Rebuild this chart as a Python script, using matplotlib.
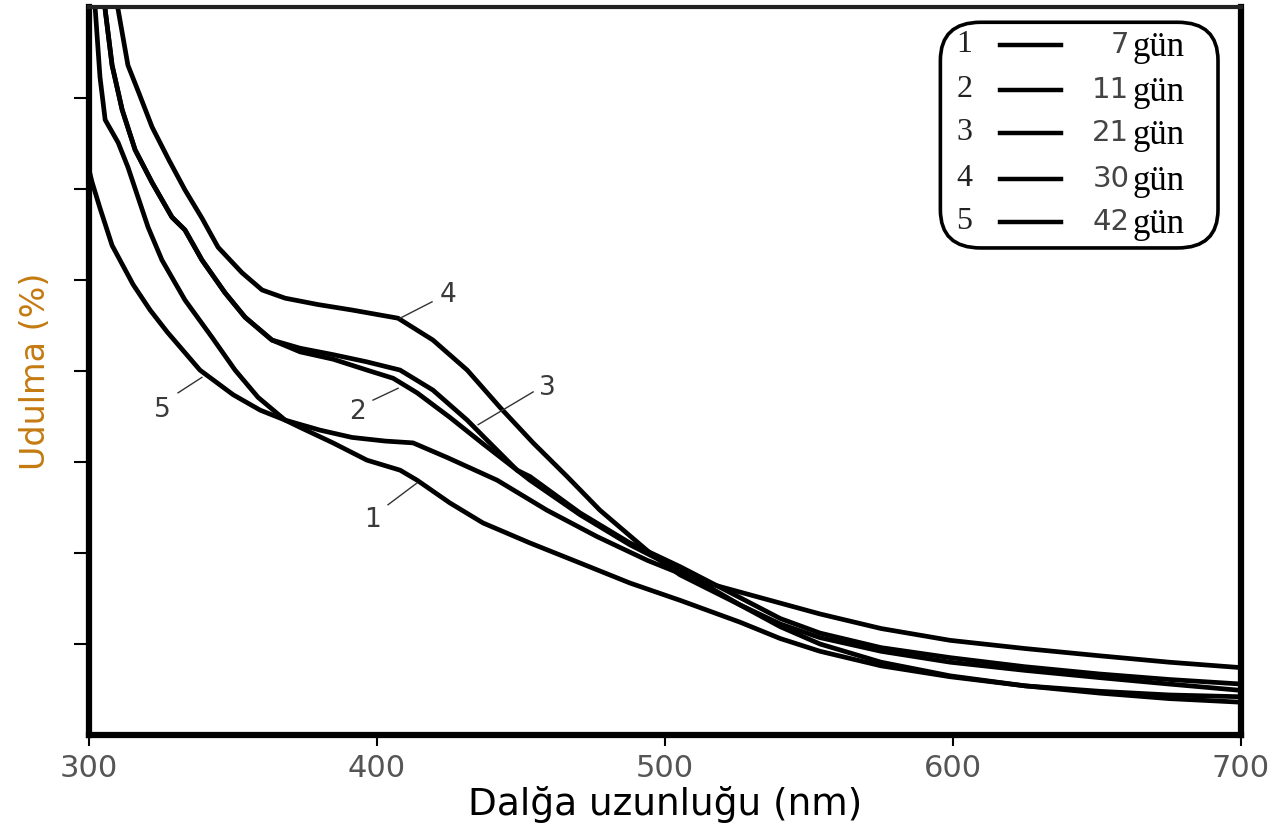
"""
Udulma spektrumları: 7-42 gün bekletilmiş örnekler (300-700 nm).
Saves: out.png
"""

import matplotlib
matplotlib.use("Agg")
import matplotlib.pyplot as plt
from matplotlib.patches import FancyBboxPatch

# -----------------------------------------------------------------------
# Data
# -----------------------------------------------------------------------
wl_1 = [302.1, 303.8, 305.6, 310.1, 313.5, 317.0, 320.5, 325.3, 333.3, 342.7,
        350.7, 358.7, 368.1, 373.3, 384.7, 396.5, 408.0, 413.9, 425.3, 436.8,
        453.1, 470.5, 487.8, 505.2, 526.0, 540.0, 553.8, 575.0, 599.0, 625.0,
        651.0, 675.0, 700.0]
abs_1 = [8.00, 7.23, 6.76, 6.51, 6.24, 5.91, 5.58, 5.22, 4.78, 4.37,
         4.01, 3.71, 3.46, 3.38, 3.21, 3.02, 2.91, 2.80, 2.55, 2.33,
         2.11, 1.89, 1.67, 1.48, 1.24, 1.06, 0.92, 0.76, 0.64, 0.54,
         0.48, 0.44, 0.42]

wl_2 = [305.2, 305.6, 308.0, 311.5, 316.0, 321.9, 328.8, 333.3, 339.2, 347.2,
        354.2, 363.5, 373.3, 384.7, 396.5, 405.6, 413.9, 425.3, 436.8, 453.1,
        470.5, 487.8, 505.2, 526.0, 540.0, 553.8, 575.0, 599.0, 625.0, 651.0,
        675.0, 700.0]
abs_2 = [8.13, 7.97, 7.36, 6.87, 6.43, 6.07, 5.69, 5.55, 5.22, 4.86,
         4.59, 4.34, 4.21, 4.13, 4.01, 3.92, 3.76, 3.49, 3.20, 2.80,
         2.42, 2.09, 1.81, 1.43, 1.19, 1.00, 0.80, 0.65, 0.54, 0.46,
         0.40, 0.36]

wl_3 = [305.2, 305.6, 308.0, 311.5, 316.0, 321.9, 328.8, 333.3, 339.2, 347.2,
        354.2, 363.5, 373.3, 384.7, 396.5, 408.0, 419.4, 431.3, 438.2, 448.6,
        453.1, 470.5, 487.8, 505.2, 526.0, 540.0, 553.8, 575.0, 599.0, 625.0,
        651.0, 675.0, 700.0]
abs_3 = [8.13, 7.97, 7.36, 6.87, 6.43, 6.07, 5.69, 5.55, 5.22, 4.86,
         4.59, 4.34, 4.25, 4.18, 4.10, 4.01, 3.79, 3.46, 3.24, 2.91,
         2.84, 2.44, 2.11, 1.85, 1.51, 1.28, 1.12, 0.96, 0.85, 0.75,
         0.67, 0.61, 0.56]

wl_4 = [309.0, 310.1, 313.5, 317.0, 321.9, 327.7, 333.3, 339.2, 344.8, 353.1,
        360.1, 368.1, 379.5, 391.3, 407.3, 419.4, 431.3, 442.7, 454.2, 466.0,
        477.4, 494.8, 505.2, 526.0, 540.0, 553.8, 575.0, 599.0, 625.0, 651.0,
        675.0, 700.0]
abs_4 = [8.13, 7.97, 7.36, 7.08, 6.68, 6.32, 5.99, 5.68, 5.36, 5.08,
         4.89, 4.80, 4.73, 4.67, 4.58, 4.34, 4.01, 3.60, 3.21, 2.84,
         2.47, 2.00, 1.76, 1.43, 1.22, 1.07, 0.92, 0.80, 0.71, 0.63,
         0.56, 0.49]

wl_5 = [300.0, 301.0, 303.8, 308.0, 315.3, 321.2, 327.1, 338.5, 350.0, 359.4,
        368.1, 380.2, 391.3, 402.8, 412.5, 424.3, 441.7, 459.0, 476.4, 493.8,
        511.1, 533.0, 553.8, 575.0, 599.0, 625.0, 651.0, 675.0, 700.0]
abs_5 = [6.21, 6.08, 5.79, 5.38, 4.95, 4.67, 4.43, 4.01, 3.74, 3.57,
         3.46, 3.35, 3.27, 3.23, 3.21, 3.05, 2.80, 2.47, 2.18, 1.92,
         1.70, 1.51, 1.33, 1.17, 1.04, 0.95, 0.87, 0.80, 0.74]

curve_ids = ["1", "2", "3", "4", "5"]
days      = ["7", "11", "21", "30", "42"]

# curve label text position and leader line (start on curve, end near text)
label_xy  = [(398.3, 2.36), (393.1, 3.55), (459.0, 3.81), (424.7, 4.84), (325.3, 3.57)]
leader_a  = [(413.9, 2.77), (407.3, 3.81), (435.1, 3.41), (408.0, 4.58), (339.2, 3.93)]
leader_b  = [(403.8, 2.53), (398.6, 3.68), (454.2, 3.77), (419.1, 4.76), (330.9, 3.76)]

x_ticks = [300, 400, 500, 600, 700]
y_ticks = [1, 2, 3, 4, 5, 6, 7]

# -----------------------------------------------------------------------
# Plot
# -----------------------------------------------------------------------
fig = plt.figure(figsize=(12.83, 8.32), dpi=100)
ax = fig.add_axes([0.0694, 0.1166, 0.8979, 0.875])

for wl, ab in [(wl_1, abs_1), (wl_2, abs_2), (wl_3, abs_3), (wl_4, abs_4), (wl_5, abs_5)]:
    ax.plot(wl, ab, color="black", linewidth=3.4, solid_joinstyle="round",
            solid_capstyle="round")

for cid, txt, a, b in zip(curve_ids, label_xy, leader_a, leader_b):
    ax.plot([a[0], b[0]], [a[1], b[1]], color="#333333", linewidth=1.0)
    ax.text(txt[0], txt[1], cid, fontsize=19, color="#3a3a3a",
            ha="center", va="center")

ax.set_xlim(300, 700)
ax.set_ylim(0, 8)
ax.set_xticks(x_ticks)
ax.set_yticks(y_ticks)
ax.set_yticklabels([])
ax.tick_params(axis="x", direction="out", length=8, width=1.5,
               labelsize=22, labelcolor="#555555", pad=6)
ax.tick_params(axis="y", direction="out", length=11, width=1.5)

for side in ["left", "bottom", "right"]:
    ax.spines[side].set_linewidth(4.5)
ax.spines["top"].set_linewidth(3)
ax.spines["top"].set_color("#222222")

ax.set_xlabel("Dalğa uzunluğu (nm)", fontsize=27, color="black", labelpad=2)
ax.set_ylabel("Udulma (%)", fontsize=24, color="#c47a10", labelpad=12)

# legend drawn by hand (rounded box, numbered rows)
box = FancyBboxPatch((0.739, 0.669), 0.241, 0.31, transform=ax.transAxes,
                     boxstyle="round,pad=0,rounding_size=0.035",
                     facecolor="white", edgecolor="black", linewidth=2.6,
                     mutation_aspect=1.5)
ax.add_patch(box)
row_y = [0.948, 0.886, 0.827, 0.764, 0.705]
for cid, d, yy in zip(curve_ids, days, row_y):
    ax.text(0.760, yy, cid, transform=ax.transAxes, fontsize=23,
            family="Liberation Serif", color="#222222", ha="center", va="center")
    ax.plot([0.791, 0.844], [yy, yy], transform=ax.transAxes,
            color="black", linewidth=3.2)
    ax.text(0.903, yy, d, transform=ax.transAxes, fontsize=21,
            color="#444444", ha="right", va="center")
    ax.text(0.906, yy - 0.004, "gün", transform=ax.transAxes, fontsize=25,
            family="Liberation Serif", color="black", ha="left", va="center")

fig.savefig("out.png", dpi=100)
plt.close(fig)
